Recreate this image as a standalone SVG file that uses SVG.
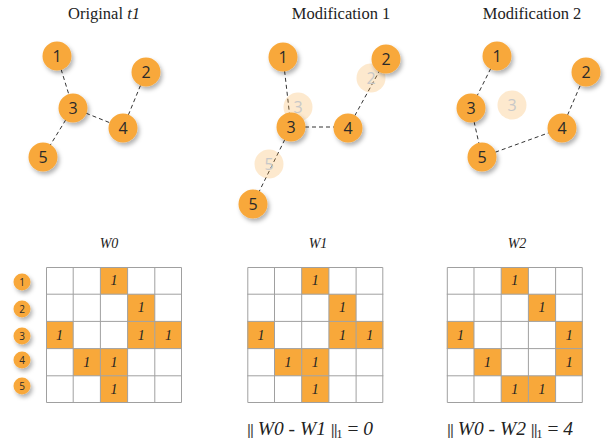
<svg xmlns="http://www.w3.org/2000/svg" width="607" height="443" viewBox="0 0 607 443">
<defs>
<filter id="sh" x="-50%" y="-50%" width="200%" height="200%">
<feDropShadow dx="2" dy="3" stdDeviation="2" flood-color="#000" flood-opacity="0.3"/>
</filter>
<style>
.node circle{fill:#F8A83A;filter:url(#sh)}
.node text{font-family:"Open Sans","Noto Sans",sans-serif;font-size:16px;fill:#2a2a2a;text-anchor:middle;dominant-baseline:central}
.ghost circle{fill:#F8A83A;opacity:0.25}
.ghost text{font-family:"Open Sans","Noto Sans",sans-serif;font-size:16px;fill:#c8c8c8;text-anchor:middle;dominant-baseline:central}
.small circle{fill:#F8A83A;filter:url(#sh)}
.small text{font-family:"Open Sans","Noto Sans",sans-serif;font-size:10px;fill:#2a2a2a;text-anchor:middle;dominant-baseline:central}
.edge{stroke:#333;stroke-width:1;stroke-dasharray:4 3;fill:none}
.title{font-family:"Liberation Serif","Times New Roman","DejaVu Serif",serif;font-size:16.5px;fill:#222;text-anchor:middle}
.wl{font-family:"Liberation Serif","Times New Roman","DejaVu Serif",serif;font-size:14px;font-style:italic;fill:#222;text-anchor:middle}
.cell{fill:#fff}
.on{fill:#F8A83A}
.grid{stroke:#a0a0a0;stroke-width:1;fill:none}
.one{font-family:"Liberation Serif","Times New Roman","DejaVu Serif",serif;font-size:14px;font-style:italic;fill:#222;text-anchor:middle;dominant-baseline:central}
.f{font-family:"Liberation Serif","Times New Roman","DejaVu Serif",serif;font-size:19.5px;fill:#222}
.i{font-style:italic}
.bar{font-family:"Liberation Sans","DejaVu Sans",sans-serif;font-size:15px;letter-spacing:-1px;fill:#444}
</style>
</defs>
<rect width="607" height="443" fill="#fff"/>

<text class="title" x="104" y="19">Original <tspan font-style="italic">t1</tspan></text>
<text class="title" x="341" y="19">Modification 1</text>
<text class="title" x="532" y="19">Modification 2</text>

<g id="connectors">
<line class="edge" x1="57" y1="56" x2="73" y2="108"/>
<line class="edge" x1="73" y1="108" x2="123" y2="128"/>
<line class="edge" x1="123" y1="128" x2="146" y2="72"/>
<line class="edge" x1="73" y1="108" x2="43" y2="157"/>
<line class="edge" x1="283" y1="57" x2="291" y2="127"/>
<line class="edge" x1="291" y1="127" x2="348" y2="127"/>
<line class="edge" x1="348" y1="128" x2="386" y2="59"/>
<line class="edge" x1="291" y1="127" x2="253" y2="204"/>
<line class="edge" x1="497" y1="56" x2="471" y2="108"/>
<line class="edge" x1="471" y1="108" x2="482" y2="157"/>
<line class="edge" x1="482" y1="157" x2="562" y2="128"/>
<line class="edge" x1="562" y1="128" x2="586" y2="72"/>
</g>

<g id="ghost-m1-2" class="ghost"><circle cx="371" cy="78" r="14.5"/><text x="371" y="78">2</text></g>
<g id="ghost-m1-3" class="ghost"><circle cx="298" cy="107" r="14.5"/><text x="298" y="107">3</text></g>
<g id="ghost-m1-5" class="ghost"><circle cx="269" cy="164" r="14.5"/><text x="269" y="164">5</text></g>
<g id="ghost-m2-3" class="ghost"><circle cx="512" cy="105" r="14.5"/><text x="512" y="105">3</text></g>

<g id="o-n1" class="node"><circle cx="57" cy="56" r="14.5"/><text x="57" y="56">1</text></g>
<g id="o-n2" class="node"><circle cx="146" cy="72" r="14.5"/><text x="146" y="72">2</text></g>
<g id="o-n3" class="node"><circle cx="73" cy="108" r="14.5"/><text x="73" y="108">3</text></g>
<g id="o-n4" class="node"><circle cx="123" cy="128" r="14.5"/><text x="123" y="128">4</text></g>
<g id="o-n5" class="node"><circle cx="43" cy="157" r="14.5"/><text x="43" y="157">5</text></g>

<g id="m1-n1" class="node"><circle cx="283" cy="57" r="14.5"/><text x="283" y="57">1</text></g>
<g id="m1-n2" class="node"><circle cx="386" cy="59" r="14.5"/><text x="386" y="59">2</text></g>
<g id="m1-n3" class="node"><circle cx="291" cy="127" r="14.5"/><text x="291" y="127">3</text></g>
<g id="m1-n4" class="node"><circle cx="348" cy="128" r="14.5"/><text x="348" y="128">4</text></g>
<g id="m1-n5" class="node"><circle cx="253" cy="204" r="14.5"/><text x="253" y="204">5</text></g>

<g id="m2-n1" class="node"><circle cx="497" cy="56" r="14.5"/><text x="497" y="56">1</text></g>
<g id="m2-n2" class="node"><circle cx="586" cy="72" r="14.5"/><text x="586" y="72">2</text></g>
<g id="m2-n3" class="node"><circle cx="471" cy="108" r="14.5"/><text x="471" y="108">3</text></g>
<g id="m2-n4" class="node"><circle cx="562" cy="128" r="14.5"/><text x="562" y="128">4</text></g>
<g id="m2-n5" class="node"><circle cx="482" cy="157" r="14.5"/><text x="482" y="157">5</text></g>

<g id="row-labels">
<g id="r1" class="small"><circle cx="22" cy="282" r="8.5"/><text x="22" y="282">1</text></g>
<g id="r2" class="small"><circle cx="22" cy="309" r="8.5"/><text x="22" y="309">2</text></g>
<g id="r3" class="small"><circle cx="22" cy="336" r="8.5"/><text x="22" y="336">3</text></g>
<g id="r4" class="small"><circle cx="22" cy="360" r="8.5"/><text x="22" y="360">4</text></g>
<g id="r5" class="small"><circle cx="22" cy="386" r="8.5"/><text x="22" y="386">5</text></g>
</g>

<text class="wl" x="109" y="248">W0</text>
<text class="wl" x="318" y="248">W1</text>
<text class="wl" x="517" y="248">W2</text>

<g id="W0" transform="translate(46,267)">
<rect class="cell" width="136" height="136"/>
<rect class="on" x="54.4" y="0" width="27.2" height="27.2"/>
<rect class="on" x="81.6" y="27.2" width="27.2" height="27.2"/>
<rect class="on" x="0" y="54.4" width="27.2" height="27.2"/>
<rect class="on" x="81.6" y="54.4" width="27.2" height="27.2"/>
<rect class="on" x="108.8" y="54.4" width="27.2" height="27.2"/>
<rect class="on" x="27.2" y="81.6" width="27.2" height="27.2"/>
<rect class="on" x="54.4" y="81.6" width="27.2" height="27.2"/>
<rect class="on" x="54.4" y="108.8" width="27.2" height="27.2"/>
<path class="grid" d="M0.5 0.5H135.5V135.5H0.5Z M27.2 0V136 M54.4 0V136 M81.6 0V136 M108.8 0V136 M0 27.2H136 M0 54.4H136 M0 81.6H136 M0 108.8H136"/>
<text class="one" x="68" y="13.6">1</text>
<text class="one" x="95.2" y="40.8">1</text>
<text class="one" x="13.6" y="68">1</text>
<text class="one" x="95.2" y="68">1</text>
<text class="one" x="122.4" y="68">1</text>
<text class="one" x="40.8" y="95.2">1</text>
<text class="one" x="68" y="95.2">1</text>
<text class="one" x="68" y="122.4">1</text>
</g>

<g id="W1" transform="translate(247.3,267)">
<rect class="cell" width="136" height="136"/>
<rect class="on" x="54.4" y="0" width="27.2" height="27.2"/>
<rect class="on" x="81.6" y="27.2" width="27.2" height="27.2"/>
<rect class="on" x="0" y="54.4" width="27.2" height="27.2"/>
<rect class="on" x="81.6" y="54.4" width="27.2" height="27.2"/>
<rect class="on" x="108.8" y="54.4" width="27.2" height="27.2"/>
<rect class="on" x="27.2" y="81.6" width="27.2" height="27.2"/>
<rect class="on" x="54.4" y="81.6" width="27.2" height="27.2"/>
<rect class="on" x="54.4" y="108.8" width="27.2" height="27.2"/>
<path class="grid" d="M0.5 0.5H135.5V135.5H0.5Z M27.2 0V136 M54.4 0V136 M81.6 0V136 M108.8 0V136 M0 27.2H136 M0 54.4H136 M0 81.6H136 M0 108.8H136"/>
<text class="one" x="68" y="13.6">1</text>
<text class="one" x="95.2" y="40.8">1</text>
<text class="one" x="13.6" y="68">1</text>
<text class="one" x="95.2" y="68">1</text>
<text class="one" x="122.4" y="68">1</text>
<text class="one" x="40.8" y="95.2">1</text>
<text class="one" x="68" y="95.2">1</text>
<text class="one" x="68" y="122.4">1</text>
</g>

<g id="W2" transform="translate(446.8,267)">
<rect class="cell" width="136" height="136"/>
<rect class="on" x="54.4" y="0" width="27.2" height="27.2"/>
<rect class="on" x="81.6" y="27.2" width="27.2" height="27.2"/>
<rect class="on" x="0" y="54.4" width="27.2" height="27.2"/>
<rect class="on" x="108.8" y="54.4" width="27.2" height="27.2"/>
<rect class="on" x="27.2" y="81.6" width="27.2" height="27.2"/>
<rect class="on" x="108.8" y="81.6" width="27.2" height="27.2"/>
<rect class="on" x="54.4" y="108.8" width="27.2" height="27.2"/>
<rect class="on" x="81.6" y="108.8" width="27.2" height="27.2"/>
<path class="grid" d="M0.5 0.5H135.5V135.5H0.5Z M27.2 0V136 M54.4 0V136 M81.6 0V136 M108.8 0V136 M0 27.2H136 M0 54.4H136 M0 81.6H136 M0 108.8H136"/>
<text class="one" x="68" y="13.6">1</text>
<text class="one" x="95.2" y="40.8">1</text>
<text class="one" x="13.6" y="68">1</text>
<text class="one" x="122.4" y="68">1</text>
<text class="one" x="40.8" y="95.2">1</text>
<text class="one" x="122.4" y="95.2">1</text>
<text class="one" x="68" y="122.4">1</text>
<text class="one" x="95.2" y="122.4">1</text>
</g>

<text class="f" x="247" y="435"><tspan class="bar">||</tspan> <tspan class="i">W0</tspan> - <tspan class="i">W1</tspan> <tspan class="bar">||</tspan><tspan font-size="12" dy="3">1</tspan><tspan dy="-3"> = </tspan><tspan class="i">0</tspan></text>
<text class="f" x="447" y="435"><tspan class="bar">||</tspan> <tspan class="i">W0</tspan> - <tspan class="i">W2</tspan> <tspan class="bar">||</tspan><tspan font-size="12" dy="3">1</tspan><tspan dy="-3"> = </tspan><tspan class="i">4</tspan></text>
</svg>
